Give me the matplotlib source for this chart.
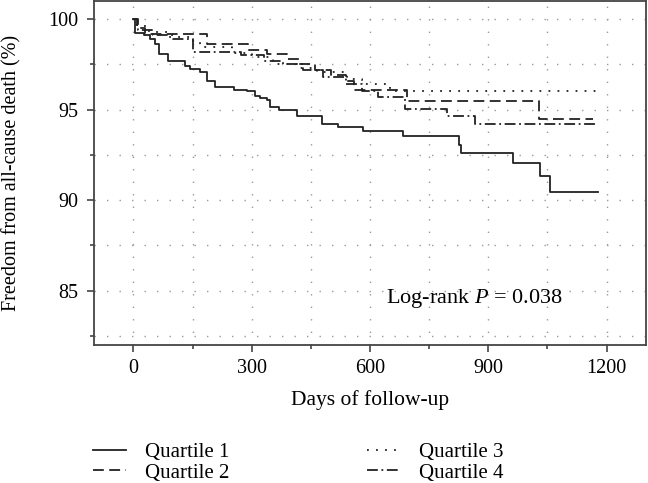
import numpy as np
import matplotlib.pyplot as plt
from matplotlib.ticker import MultipleLocator

plt.rcParams['font.family'] = ['Liberation Serif', 'DejaVu Serif']
plt.rcParams['mathtext.fontset'] = 'custom'
plt.rcParams['mathtext.rm'] = 'Liberation Serif'
plt.rcParams['mathtext.it'] = 'Liberation Serif:italic'

# Kaplan-Meier step points (days, % free from all-cause death)
q1_t = [0, 5, 26, 43, 56, 64, 89, 132, 144, 170, 186, 208, 254, 288, 309, 321, 338, 347, 368, 414, 478, 520, 583, 684, 826, 832, 963, 1030, 1056, 1178]
q1_v = [100, 99.25, 99.1, 98.88, 98.6, 98.06, 97.66, 97.42, 97.23, 97.05, 96.6, 96.26, 96.08, 96.0, 95.77, 95.64, 95.53, 95.13, 94.95, 94.67, 94.21, 94.03, 93.8, 93.52, 93.02, 92.6, 92.05, 91.32, 90.42, 90.42]

q2_t = [0, 8, 30, 186, 290, 340, 390, 420, 460, 500, 540, 560, 693, 1028, 1165]
q2_v = [100, 99.5, 99.2, 98.6, 98.3, 98.06, 97.8, 97.5, 97.2, 96.9, 96.6, 96.1, 95.5, 94.5, 94.5]

q3_t = [0, 10, 40, 90, 150, 170, 250, 300, 355, 420, 465, 541, 580, 650, 1180]
q3_v = [100, 99.6, 99.3, 99.0, 98.8, 98.45, 98.15, 97.9, 97.5, 97.3, 97.05, 96.7, 96.4, 96.0, 96.0]

q4_t = [0, 12, 50, 100, 152, 272, 330, 380, 430, 480, 540, 580, 620, 690, 795, 865, 1172]
q4_v = [100, 99.4, 99.1, 98.9, 98.2, 98.0, 97.7, 97.5, 97.2, 96.8, 96.4, 96.0, 95.7, 95.05, 94.67, 94.21, 94.21]

labels = ['Quartile 1', 'Quartile 2', 'Quartile 3', 'Quartile 4']
styles = ['-', (0, (6, 3)), (0, (1, 4)), (0, (6, 2, 1, 2))]

fig = plt.figure(figsize=(6.48, 4.83), dpi=100)
ax = fig.add_axes([0.145, 0.286, 0.852, 0.712])

col = '#222222'
for t, v, lab, ls in zip([q1_t, q2_t, q3_t, q4_t], [q1_v, q2_v, q3_v, q4_v], labels, styles):
    ax.plot(t, v, drawstyle='steps-post', color=col, lw=1.3, linestyle=ls, label=lab)

ax.set_xlim(-100, 1300)
ax.set_ylim(82, 101)
ax.xaxis.set_major_locator(MultipleLocator(300))
ax.xaxis.set_minor_locator(MultipleLocator(150))
ax.yaxis.set_major_locator(MultipleLocator(5))
ax.yaxis.set_minor_locator(MultipleLocator(2.5))
ax.tick_params(which='both', direction='out', color='#444444', width=1.2, labelsize=14.5)
ax.tick_params(which='major', length=5)
ax.tick_params(which='minor', length=3)
ax.tick_params(axis='y', pad=6)
ax.tick_params(axis='x', pad=5)
ax.grid(which='both', color='#999999', linestyle=(0, (1, 8)), lw=1)
for s in ax.spines.values():
    s.set_color('#444444')
    s.set_linewidth(1.3)

ax.set_xlabel('Days of follow-up', fontsize=15.5)
ax.set_ylabel('Freedom from all-cause death (%)', fontsize=14.5)
ax.xaxis.set_label_coords(0.5, -0.131)
ax.yaxis.set_label_coords(-0.132, 0.5)
ax.text(866, 84.56, 'Log-rank $\\mathit{P}$ = 0.038', ha='center', va='center', fontsize=16)

fig.legend(loc='upper left', bbox_to_anchor=(0.131, 0.101), ncol=2, frameon=False,
           fontsize=15, handlelength=1.55, handletextpad=0.95, columnspacing=6.6,
           labelspacing=0.05, borderaxespad=0)

fig.savefig('out.png', dpi=100)
